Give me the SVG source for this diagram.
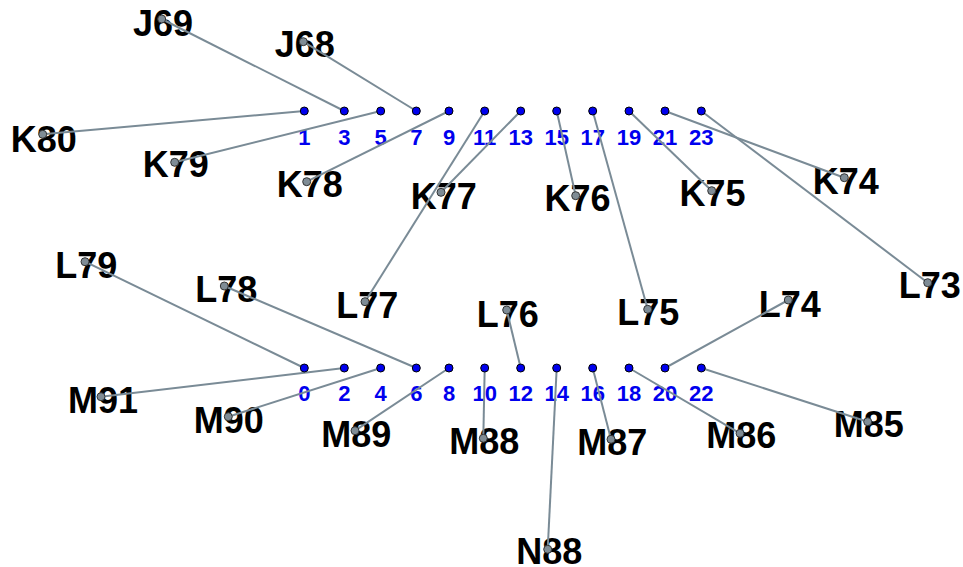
<svg xmlns="http://www.w3.org/2000/svg" width="963" height="567" viewBox="0 0 963 567">
<style>
.lbl{font-family:"Liberation Sans",Arial,sans-serif;font-weight:bold;font-size:36px;fill:#000;text-anchor:middle}
.num{font-family:"Liberation Sans",Arial,sans-serif;font-weight:bold;font-size:22px;fill:#0000ee;text-anchor:middle}
.pin{fill:#0000ee;stroke:#000;stroke-width:1}
.dot{fill:#7f8c95;stroke:#333;stroke-width:1}
#connectors line{stroke:#7a8b96;stroke-width:2}
</style>
<rect width="963" height="567" fill="#fff"/>
<g id="labels">
<g id="J69"><text class="lbl" x="163" y="36">J69</text></g>
<g id="J68"><text class="lbl" x="304.7" y="57.3">J68</text></g>
<g id="K80"><text class="lbl" x="43.8" y="151.7">K80</text></g>
<g id="K79"><text class="lbl" x="175.8" y="176.7">K79</text></g>
<g id="K78"><text class="lbl" x="309.7" y="196.7">K78</text></g>
<g id="K77"><text class="lbl" x="443.8" y="209.3">K77</text></g>
<g id="K76"><text class="lbl" x="577.5" y="211">K76</text></g>
<g id="K75"><text class="lbl" x="712.5" y="206">K75</text></g>
<g id="K74"><text class="lbl" x="845.8" y="194">K74</text></g>
<g id="L73"><text class="lbl" x="929.7" y="298.3">L73</text></g>
<g id="L79"><text class="lbl" x="86.3" y="278.3">L79</text></g>
<g id="L78"><text class="lbl" x="226.2" y="302.3">L78</text></g>
<g id="L77"><text class="lbl" x="367.2" y="318.3">L77</text></g>
<g id="L76"><text class="lbl" x="507.8" y="326.7">L76</text></g>
<g id="L75"><text class="lbl" x="648.3" y="325">L75</text></g>
<g id="L74"><text class="lbl" x="789.7" y="317.3">L74</text></g>
<g id="M91"><text class="lbl" x="103" y="412.7">M91</text></g>
<g id="M90"><text class="lbl" x="228.7" y="432.7">M90</text></g>
<g id="M89"><text class="lbl" x="356.2" y="446.7">M89</text></g>
<g id="M88"><text class="lbl" x="484.3" y="454">M88</text></g>
<g id="M87"><text class="lbl" x="612.2" y="455">M87</text></g>
<g id="M86"><text class="lbl" x="741.3" y="448.3">M86</text></g>
<g id="M85"><text class="lbl" x="868.8" y="436.7">M85</text></g>
<g id="N88"><text class="lbl" x="549.2" y="564">N88</text></g>
</g>
<g id="pin-numbers">
<text class="num" x="304.3" y="145">1</text>
<text class="num" x="344.3" y="145">3</text>
<text class="num" x="380.7" y="145">5</text>
<text class="num" x="416.3" y="145">7</text>
<text class="num" x="449" y="145">9</text>
<text class="num" x="484.7" y="145">11</text>
<text class="num" x="520.7" y="145">13</text>
<text class="num" x="556.7" y="145">15</text>
<text class="num" x="592.7" y="145">17</text>
<text class="num" x="629" y="145">19</text>
<text class="num" x="665" y="145">21</text>
<text class="num" x="701.3" y="145">23</text>
<text class="num" x="304.3" y="401">0</text>
<text class="num" x="344.3" y="401">2</text>
<text class="num" x="380.7" y="401">4</text>
<text class="num" x="416.3" y="401">6</text>
<text class="num" x="449" y="401">8</text>
<text class="num" x="484.7" y="401">10</text>
<text class="num" x="520.7" y="401">12</text>
<text class="num" x="556.7" y="401">14</text>
<text class="num" x="592.7" y="401">16</text>
<text class="num" x="629" y="401">18</text>
<text class="num" x="665" y="401">20</text>
<text class="num" x="701.3" y="401">22</text>
</g>
<g id="connectors">
<line x1="344.3" y1="111" x2="161.7" y2="19"/>
<line x1="416.3" y1="111" x2="303.3" y2="41.7"/>
<line x1="304.3" y1="111" x2="42.7" y2="134.3"/>
<line x1="380.7" y1="111" x2="174.7" y2="162.3"/>
<line x1="449" y1="111" x2="306.7" y2="181.7"/>
<line x1="520.7" y1="111" x2="441" y2="192.3"/>
<line x1="484.7" y1="111" x2="365" y2="301.7"/>
<line x1="556.7" y1="111" x2="575.7" y2="195.7"/>
<line x1="592.7" y1="111" x2="647.7" y2="309.3"/>
<line x1="629" y1="111" x2="711.7" y2="190.7"/>
<line x1="665" y1="111" x2="844.3" y2="177.7"/>
<line x1="701.3" y1="111" x2="927.7" y2="282.7"/>
<line x1="304.3" y1="368" x2="85" y2="261.7"/>
<line x1="416.3" y1="368" x2="224.3" y2="286"/>
<line x1="344.3" y1="368" x2="101" y2="396.7"/>
<line x1="380.7" y1="368" x2="228.3" y2="416.7"/>
<line x1="449" y1="368" x2="355" y2="430.7"/>
<line x1="484.7" y1="368" x2="483.3" y2="438.3"/>
<line x1="520.7" y1="368" x2="506.7" y2="310"/>
<line x1="556.7" y1="368" x2="547.7" y2="549.3"/>
<line x1="592.7" y1="368" x2="611" y2="439.3"/>
<line x1="629" y1="368" x2="740" y2="433.3"/>
<line x1="665" y1="368" x2="788.3" y2="300"/>
<line x1="701.3" y1="368" x2="867.7" y2="421.7"/>
</g>
<g id="label-dots">
<circle class="dot" cx="161.7" cy="19" r="4"/>
<circle class="dot" cx="303.3" cy="41.7" r="4"/>
<circle class="dot" cx="42.7" cy="134.3" r="4"/>
<circle class="dot" cx="174.7" cy="162.3" r="4"/>
<circle class="dot" cx="306.7" cy="181.7" r="4"/>
<circle class="dot" cx="441" cy="192.3" r="4"/>
<circle class="dot" cx="575.7" cy="195.7" r="4"/>
<circle class="dot" cx="711.7" cy="190.7" r="4"/>
<circle class="dot" cx="844.3" cy="177.7" r="4"/>
<circle class="dot" cx="927.7" cy="282.7" r="4"/>
<circle class="dot" cx="85" cy="261.7" r="4"/>
<circle class="dot" cx="224.3" cy="286" r="4"/>
<circle class="dot" cx="365" cy="301.7" r="4"/>
<circle class="dot" cx="506.7" cy="310" r="4"/>
<circle class="dot" cx="647.7" cy="309.3" r="4"/>
<circle class="dot" cx="788.3" cy="300" r="4"/>
<circle class="dot" cx="101" cy="396.7" r="4"/>
<circle class="dot" cx="228.3" cy="416.7" r="4"/>
<circle class="dot" cx="355" cy="430.7" r="4"/>
<circle class="dot" cx="483.3" cy="438.3" r="4"/>
<circle class="dot" cx="611" cy="439.3" r="4"/>
<circle class="dot" cx="740" cy="433.3" r="4"/>
<circle class="dot" cx="867.7" cy="421.7" r="4"/>
<circle class="dot" cx="547.7" cy="549.3" r="4"/>
</g>
<g id="pins">
<circle class="pin" cx="304.3" cy="111" r="4"/>
<circle class="pin" cx="344.3" cy="111" r="4"/>
<circle class="pin" cx="380.7" cy="111" r="4"/>
<circle class="pin" cx="416.3" cy="111" r="4"/>
<circle class="pin" cx="449" cy="111" r="4"/>
<circle class="pin" cx="484.7" cy="111" r="4"/>
<circle class="pin" cx="520.7" cy="111" r="4"/>
<circle class="pin" cx="556.7" cy="111" r="4"/>
<circle class="pin" cx="592.7" cy="111" r="4"/>
<circle class="pin" cx="629" cy="111" r="4"/>
<circle class="pin" cx="665" cy="111" r="4"/>
<circle class="pin" cx="701.3" cy="111" r="4"/>
<circle class="pin" cx="304.3" cy="368" r="4"/>
<circle class="pin" cx="344.3" cy="368" r="4"/>
<circle class="pin" cx="380.7" cy="368" r="4"/>
<circle class="pin" cx="416.3" cy="368" r="4"/>
<circle class="pin" cx="449" cy="368" r="4"/>
<circle class="pin" cx="484.7" cy="368" r="4"/>
<circle class="pin" cx="520.7" cy="368" r="4"/>
<circle class="pin" cx="556.7" cy="368" r="4"/>
<circle class="pin" cx="592.7" cy="368" r="4"/>
<circle class="pin" cx="629" cy="368" r="4"/>
<circle class="pin" cx="665" cy="368" r="4"/>
<circle class="pin" cx="701.3" cy="368" r="4"/>
</g>
</svg>
